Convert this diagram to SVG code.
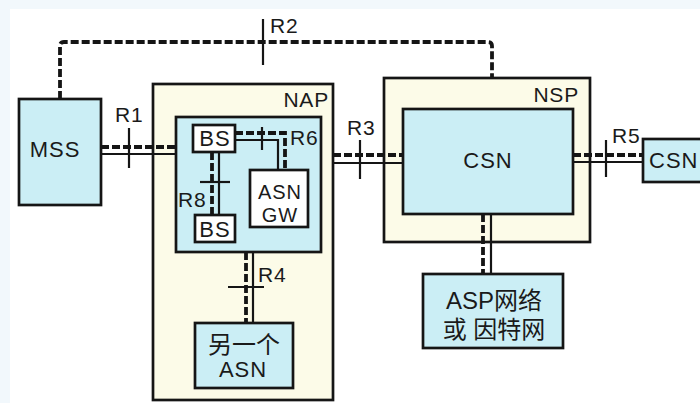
<svg xmlns="http://www.w3.org/2000/svg" width="700" height="403" viewBox="0 0 700 403">
<style>
.box{stroke:#151515;stroke-width:2.7}
.cy{fill:#cbeef5}
.cr{fill:#fcfbe8}
.wt{fill:#ffffff}
.sol{stroke:#151515;stroke-width:2.2;fill:none}
.dsh{stroke:#151515;stroke-width:3.8;fill:none;stroke-dasharray:8 3}
.tk{stroke:#151515;stroke-width:2.2;fill:none}
text{font-family:"Liberation Sans","Noto Sans CJK SC",Arial,sans-serif;fill:#1a1a1a}
.lb{font-size:21px;letter-spacing:0.8px}
.nm{font-size:22px;letter-spacing:1px}
.gw{font-size:20px;letter-spacing:1px}
.cjk{font-size:24px}
</style>
<rect x="0" y="0" width="700" height="403" fill="#ffffff"/>
<rect x="0" y="0" width="700" height="9" fill="#f2f8fc"/>
<rect x="0" y="0" width="10" height="403" fill="#f2f8fc"/>

<g id="NAP">
<rect class="box cr" x="153" y="84" width="180" height="316"/>
<text class="lb" x="329" y="107" text-anchor="end">NAP</text>
</g>
<g id="NSP">
<rect class="box cr" x="384" y="78" width="206" height="164"/>
<text class="lb" x="579" y="102" text-anchor="end">NSP</text>
</g>
<g id="ASN">
<rect class="box cy" x="176" y="117" width="145" height="135"/>
</g>
<g id="MSS">
<rect class="box cy" x="19" y="99" width="82" height="106"/>
<text class="nm" x="55" y="157" text-anchor="middle">MSS</text>
</g>
<g id="BS1">
<rect class="box wt" x="193" y="125" width="42" height="27"/>
<text class="nm" x="215" y="146" text-anchor="middle">BS</text>
</g>
<g id="BS2">
<rect class="box wt" x="195" y="215" width="40" height="27"/>
<text class="nm" x="215" y="237" text-anchor="middle">BS</text>
</g>
<g id="ASNGW">
<rect class="box wt" x="250" y="170" width="58" height="57"/>
<text class="gw" x="280" y="199" text-anchor="middle">ASN</text>
<text class="gw" x="280" y="222" text-anchor="middle">GW</text>
</g>
<g id="OtherASN">
<rect class="box cy" x="195" y="323" width="98" height="65"/>
<text class="cjk" x="244" y="353" text-anchor="middle">另一个</text>
<text class="nm" x="243" y="377" text-anchor="middle">ASN</text>
</g>
<g id="CSN">
<rect class="box cy" x="403" y="109" width="170" height="105"/>
<text class="nm" x="488" y="168" text-anchor="middle">CSN</text>
</g>
<g id="CSN2">
<rect class="box cy" x="643" y="139" width="62" height="43"/>
<text class="nm" x="649" y="168">CSN</text>
</g>
<g id="ASP">
<rect class="box cy" x="423" y="274" width="140" height="74"/>
<text class="cjk" x="494" y="309" text-anchor="middle">ASP网络</text>
<text class="cjk" x="494" y="338" text-anchor="middle">或 因特网</text>
</g>

<g id="connectors">
<!-- R2 -->
<path class="dsh" d="M60 99 V46 Q60 42 64 42 H488 Q492 42 492 46 V78"/>
<line class="tk" x1="263" y1="19" x2="263" y2="65"/>
<!-- R1 -->
<line class="dsh" x1="101" y1="147" x2="176" y2="147"/>
<line class="sol" x1="101" y1="154" x2="176" y2="154"/>
<line class="tk" x1="129" y1="128" x2="129" y2="168"/>
<!-- R6 -->
<path class="dsh" d="M235 133 H285 V170"/>
<path class="sol" d="M235 140 H278 V170"/>
<line class="tk" x1="262" y1="127" x2="262" y2="150"/>
<!-- R8 -->
<line class="dsh" x1="212" y1="152" x2="212" y2="215"/>
<line class="sol" x1="219" y1="152" x2="219" y2="215"/>
<line class="tk" x1="200" y1="182" x2="230" y2="182"/>
<!-- R4 -->
<line class="dsh" x1="246" y1="252" x2="246" y2="323"/>
<line class="sol" x1="253" y1="252" x2="253" y2="323"/>
<line class="tk" x1="228" y1="287" x2="264" y2="287"/>
<!-- R3 -->
<line class="dsh" x1="333" y1="155" x2="403" y2="155"/>
<line class="sol" x1="333" y1="163" x2="403" y2="163"/>
<line class="tk" x1="360" y1="140" x2="360" y2="179"/>
<!-- R5 -->
<line class="dsh" x1="573" y1="155" x2="643" y2="155"/>
<line class="sol" x1="573" y1="162" x2="643" y2="162"/>
<line class="tk" x1="606" y1="140" x2="606" y2="177"/>
<!-- CSN to ASP -->
<line class="dsh" x1="483" y1="214" x2="483" y2="274"/>
<line class="sol" x1="491" y1="214" x2="491" y2="274"/>
</g>

<g id="labels">
<text class="lb" x="270" y="33">R2</text>
<text class="lb" x="115" y="122">R1</text>
<text class="lb" x="290" y="145">R6</text>
<text class="lb" x="178" y="207">R8</text>
<text class="lb" x="258" y="282">R4</text>
<text class="lb" x="347" y="135">R3</text>
<text class="lb" x="612" y="143">R5</text>
</g>
</svg>
